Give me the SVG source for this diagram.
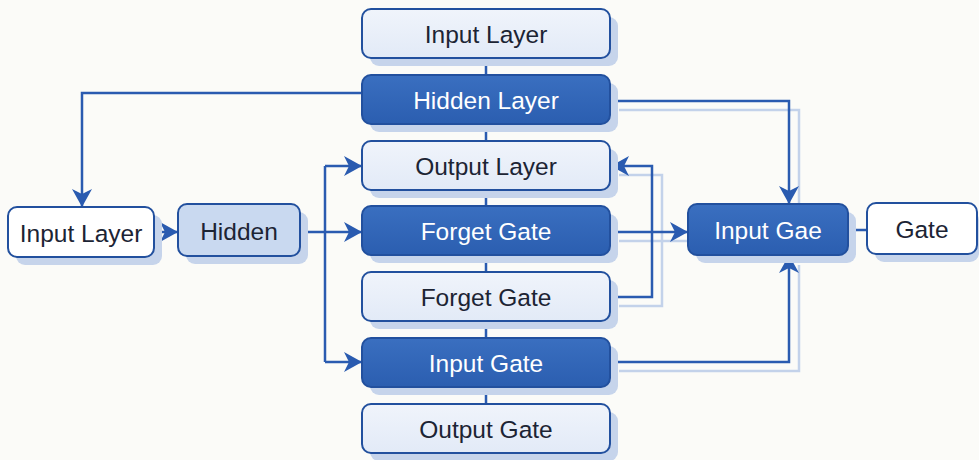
<svg xmlns="http://www.w3.org/2000/svg" width="979" height="460" viewBox="0 0 979 460">
<defs>
<linearGradient id="dk" x1="0" y1="0" x2="0" y2="1"><stop offset="0" stop-color="#3a6fc0"/><stop offset="1" stop-color="#2b5eb0"/></linearGradient>
<linearGradient id="lt" x1="0" y1="0" x2="0" y2="1"><stop offset="0" stop-color="#f0f4fb"/><stop offset="1" stop-color="#e2eaf7"/></linearGradient>
<marker id="ah" viewBox="0 0 18 20" refX="17" refY="10" markerWidth="18" markerHeight="20" markerUnits="userSpaceOnUse" orient="auto"><path d="M0,0 L18,10 L0,20 L5,10 Z" fill="#2a5bb0"/></marker>
</defs>
<style>
.sh{fill:#c6d4eb}
.box{stroke:#22509e;stroke-width:2}
.dark{fill:url(#dk)}
.light{fill:url(#lt)}
.white{fill:#ffffff}
.blue{fill:#c9d9f0}
text{font-family:"Liberation Sans",Arial,sans-serif;font-size:24.5px;text-anchor:middle;dominant-baseline:central}
.tw{fill:#ffffff}
.td{fill:#1c2434}
.ln{fill:none;stroke:#2a5bb0;stroke-width:2.5}
.lns{fill:none;stroke:#c3d2ea;stroke-width:2.5}
</style>
<rect width="979" height="460" fill="#fbfbf8"/>
<g id="connectors">
<path class="lns" d="M619,110 H799 V214"/>
<path class="lns" d="M619,241 H690"/>
<path class="lns" d="M619,306 H662 V175 H619"/>
<path class="lns" d="M619,371 H799 V265"/>
<line class="ln" x1="486" y1="58" x2="486" y2="405"/>
<path class="ln" d="M362,93 H82 V206" marker-end="url(#ah)"/>
<path class="ln" d="M154,232 H177" marker-end="url(#ah)"/>
<path class="ln" d="M300,232 H361" marker-end="url(#ah)"/>
<path class="ln" d="M325,166 V362"/>
<path class="ln" d="M325,166 H361" marker-end="url(#ah)"/>
<path class="ln" d="M325,362 H361" marker-end="url(#ah)"/>
<path class="ln" d="M610,101 H789 V203" marker-end="url(#ah)"/>
<path class="ln" d="M610,232 H687" marker-end="url(#ah)"/>
<path class="ln" d="M610,297 H652 V166 H612" marker-end="url(#ah)"/>
<path class="ln" d="M610,362 H789 V256" marker-end="url(#ah)"/>
<path class="ln" d="M848,230 H867"/>
</g>
<g id="n_input_layer_top"><rect class="sh" x="370" y="17" width="248" height="49" rx="9"/><rect class="box light" x="362" y="9" width="248" height="49" rx="9"/><text class="td" x="486" y="34">Input Layer</text></g>
<g id="n_hidden_layer"><rect class="sh" x="370" y="83" width="248" height="49" rx="9"/><rect class="box dark" x="362" y="75" width="248" height="49" rx="9"/><text class="tw" x="486" y="100">Hidden Layer</text></g>
<g id="n_output_layer"><rect class="sh" x="370" y="149" width="248" height="49" rx="9"/><rect class="box light" x="362" y="141" width="248" height="49" rx="9"/><text class="td" x="486" y="166">Output Layer</text></g>
<g id="n_forget_gate_dark"><rect class="sh" x="370" y="214" width="248" height="49" rx="9"/><rect class="box dark" x="362" y="206" width="248" height="49" rx="9"/><text class="tw" x="486" y="231">Forget Gate</text></g>
<g id="n_forget_gate_light"><rect class="sh" x="370" y="280" width="248" height="49" rx="9"/><rect class="box light" x="362" y="272" width="248" height="49" rx="9"/><text class="td" x="486" y="297">Forget Gate</text></g>
<g id="n_input_gate"><rect class="sh" x="370" y="346" width="248" height="49" rx="9"/><rect class="box dark" x="362" y="338" width="248" height="49" rx="9"/><text class="tw" x="486" y="363">Input Gate</text></g>
<g id="n_output_gate"><rect class="sh" x="370" y="412" width="248" height="49" rx="9"/><rect class="box light" x="362" y="404" width="248" height="49" rx="9"/><text class="td" x="486" y="429">Output Gate</text></g>
<g id="n_input_layer_left"><rect class="sh" x="16" y="215" width="146" height="50" rx="9"/><rect class="box white" x="8" y="207" width="146" height="50" rx="9"/><text class="td" x="81" y="233">Input Layer</text></g>
<g id="n_hidden"><rect class="sh" x="186" y="212" width="122" height="52" rx="9"/><rect class="box blue" x="178" y="204" width="122" height="52" rx="9"/><text class="td" x="239" y="231">Hidden</text></g>
<g id="n_input_gae"><rect class="sh" x="696" y="212" width="160" height="51" rx="9"/><rect class="box dark" x="688" y="204" width="160" height="51" rx="9"/><text class="tw" x="768" y="230">Input Gae</text></g>
<g id="n_gate"><rect class="sh" x="875" y="211" width="104" height="51" rx="9"/><rect class="box white" x="867" y="203" width="110" height="51" rx="9"/><text class="td" x="922" y="229">Gate</text></g>
</svg>
